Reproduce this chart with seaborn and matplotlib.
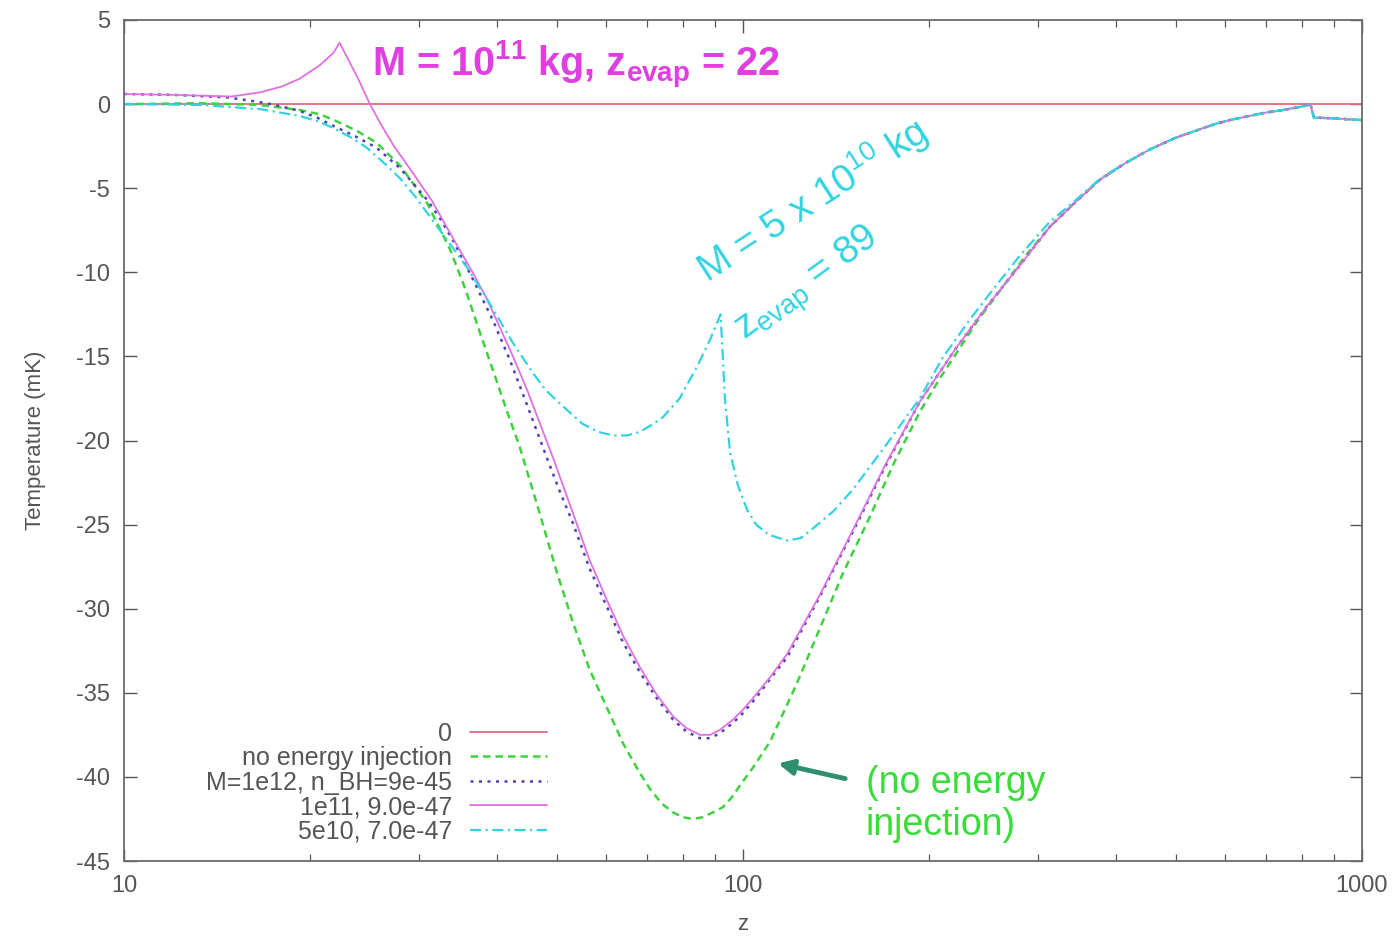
import matplotlib
matplotlib.use("Agg")
import matplotlib.pyplot as plt
import seaborn as sns
from matplotlib.ticker import FixedLocator, FixedFormatter, NullFormatter

# ---- data: redshift z and 21cm brightness temperature (mK) ----
z_zero = [10, 1000]
t_zero = [0.0, 0.0]

z_noinj = [10, 13.3, 16.6, 19.2, 20.7, 22.0, 23.8, 25.6, 28.0, 30.9, 33.6, 35.6,
           37.6, 39.6, 41.6, 43.6, 47.0, 50.0, 53.1, 56.5, 60.3, 64.0, 68.2, 71.0,
           74.0, 77.0, 80.0, 83.0, 86.0, 89.5, 92.8, 96.0, 98.9, 104.0, 110.6, 122.0,
           133.0, 145.0, 160.0, 175.0, 193.0, 208.0, 224.0, 240.0, 260.0, 285.0,
           313.0, 345.0, 377.0, 415.0, 454.0, 500.0, 547.0, 583.0, 620.0, 659.0,
           700.0, 746.0, 790.0, 826.0, 836.0, 900.0, 1000.0]
t_noinj = [0.0, 0.05, -0.05, -0.35, -0.6, -1.0, -1.6, -2.3, -3.7, -5.9, -8.6, -11.0,
           -13.6, -16.0, -18.3, -20.4, -24.4, -27.8, -30.8, -33.6, -35.9, -38.0, -39.8, -40.8,
           -41.6, -42.1, -42.4, -42.5, -42.4, -42.1, -41.8, -41.2, -40.5, -39.4, -37.9, -34.5,
           -31.2, -27.9, -24.6, -21.4, -18.3, -16.3, -14.5, -12.8, -11.1, -9.1,
           -7.3, -5.8, -4.5, -3.5, -2.7, -2.0, -1.5, -1.15, -0.9, -0.7,
           -0.5, -0.35, -0.18, -0.03, -0.8, -0.85, -0.95]

z_m12 = [10, 12.0, 14.7, 16.0, 17.0, 18.0, 19.2, 20.5, 21.8, 23.6, 25.6, 27.9,
         29.3, 30.9, 32.4, 34.0, 36.6, 39.5, 42.0, 44.8, 47.5, 50.3, 53.1, 56.5,
         60.3, 64.0, 68.2, 72.5, 77.1, 81.0, 85.2, 88.5, 91.8, 96.3, 100.0, 105.0,
         111.0, 117.8, 133.0, 150.6, 170.0, 193.0, 220.0, 248.0, 280.0, 313.0,
         345.0, 377.0, 415.0, 454.0, 500.0, 547.0, 583.0, 620.0, 659.0, 700.0,
         746.0, 790.0, 826.0, 836.0, 900.0, 1000.0]
t_m12 = [0.6, 0.55, 0.4, 0.2, 0.05, -0.15, -0.4, -0.8, -1.3, -1.9, -2.6, -3.8,
         -4.7, -5.7, -6.8, -8.1, -10.4, -12.9, -15.2, -17.9, -20.4, -22.8, -24.9, -27.6,
         -29.9, -32.0, -33.8, -35.3, -36.6, -37.3, -37.7, -37.7, -37.4, -36.8, -36.2, -35.3,
         -34.1, -32.9, -29.3, -25.4, -21.5, -17.7, -14.6, -12.0, -9.6, -7.3,
         -5.8, -4.5, -3.5, -2.7, -2.0, -1.5, -1.15, -0.9, -0.7, -0.5,
         -0.35, -0.18, -0.03, -0.8, -0.85, -0.95]

z_m11 = [10, 12.0, 14.9, 16.6, 18.0, 19.2, 20.7, 21.8, 22.3, 23.9, 25.0, 26.1,
         27.3, 29.3, 31.5, 33.2, 34.9, 36.7, 38.6, 40.5, 42.5, 44.8, 47.0, 49.3,
         53.1, 56.5, 60.3, 64.0, 68.2, 72.5, 77.1, 81.0, 85.2, 88.5, 91.8, 96.3,
         100.0, 105.0, 111.0, 117.8, 133.0, 150.6, 170.0, 193.0, 220.0, 248.0,
         280.0, 313.0, 345.0, 377.0, 415.0, 454.0, 500.0, 547.0, 583.0, 620.0,
         659.0, 700.0, 746.0, 790.0, 826.0, 836.0, 900.0, 1000.0]
t_m11 = [0.6, 0.55, 0.45, 0.7, 1.05, 1.5, 2.3, 3.05, 3.65, 1.5, -0.05, -1.3,
         -2.5, -4.1, -5.8, -7.3, -8.7, -10.1, -11.6, -13.3, -15.0, -17.0, -19.0, -21.0,
         -24.3, -27.1, -29.5, -31.6, -33.5, -35.1, -36.4, -37.1, -37.5, -37.5, -37.2, -36.6,
         -36.0, -35.1, -34.0, -32.7, -29.2, -25.3, -21.4, -17.7, -14.6, -12.0,
         -9.6, -7.3, -5.8, -4.5, -3.5, -2.7, -2.0, -1.5, -1.15, -0.9,
         -0.7, -0.5, -0.35, -0.18, -0.03, -0.8, -0.85, -0.95]

z_m5e10 = [10, 13.3, 16.6, 19.2, 20.7, 22.0, 23.3, 24.7, 26.3, 27.9, 29.7, 31.5,
           33.6, 35.8, 38.6, 42.5, 45.8, 48.0, 50.6, 55.0, 58.5, 61.7, 65.0, 68.0,
           71.0, 74.3, 79.0, 84.3, 88.5, 92.0, 93.5, 95.3, 98.0, 101.5, 105.0, 110.0,
           117.8, 124.0, 130.0, 140.0, 150.6, 170.0, 193.0, 210.0, 232.6, 255.0,
           280.2, 313.0, 345.0, 377.0, 415.0, 454.0, 500.0, 547.0, 583.0, 620.0,
           659.0, 700.0, 746.0, 790.0, 826.0, 836.0, 900.0, 1000.0]
t_m5e10 = [0.0, -0.05, -0.3, -0.7, -1.05, -1.5, -2.0, -2.6, -3.5, -4.4, -5.6, -6.9,
           -8.3, -9.7, -11.6, -14.2, -16.0, -17.0, -17.8, -19.0, -19.5, -19.7, -19.7, -19.5,
           -19.1, -18.6, -17.5, -15.6, -14.0, -12.5, -17.5, -20.7, -22.6, -24.1, -25.0, -25.6,
           -25.95, -25.8, -25.2, -24.2, -22.9, -20.3, -17.5, -15.1, -12.8, -10.9,
           -9.0, -7.0, -5.7, -4.45, -3.5, -2.7, -2.0, -1.5, -1.15, -0.9,
           -0.7, -0.5, -0.35, -0.18, -0.03, -0.8, -0.85, -0.95]

labels = ["0", "no energy injection", "M=1e12, n_BH=9e-45",
          "1e11, 9.0e-47", "5e10, 7.0e-47"]

x_major = [10, 100, 1000]
x_major_labels = ["10", "100", "1000"]
x_minor = [20, 30, 40, 50, 60, 70, 80, 90, 200, 300, 400, 500, 600, 700, 800, 900]
y_ticks = list(range(-45, 10, 5))

# ---- style ----
sns.set_style("ticks")
plt.rcParams["font.family"] = ["Liberation Sans", "DejaVu Sans"]
plt.rcParams["axes.unicode_minus"] = False
plt.rcParams["mathtext.fontset"] = "custom"
plt.rcParams["mathtext.rm"] = "Liberation Sans"
plt.rcParams["mathtext.it"] = "Liberation Sans:italic"
plt.rcParams["mathtext.bf"] = "Liberation Sans:bold"

c_zero = "#e06a80"
c_noinj = "#3fd23f"
c_m12 = "#4a44b8"
c_m11 = "#e070e0"
c_m5 = "#30d4e0"

fig = plt.figure(figsize=(14, 9.38), dpi=100)
ax = fig.add_axes([124 / 1400, 77 / 938, 1238 / 1400, 841 / 938])

sns.lineplot(x=z_zero, y=t_zero, ax=ax, color=c_zero, lw=1.3, label=labels[0],
             errorbar=None)
sns.lineplot(x=z_noinj, y=t_noinj, ax=ax, color=c_noinj, lw=1.8,
             linestyle=(0, (3, 2)), label=labels[1], errorbar=None)
sns.lineplot(x=z_m12, y=t_m12, ax=ax, color=c_m12, lw=1.8,
             linestyle=(0, (1.2, 2.2)), label=labels[2], errorbar=None)
sns.lineplot(x=z_m11, y=t_m11, ax=ax, color=c_m11, lw=1.3, label=labels[3],
             errorbar=None)
sns.lineplot(x=z_m5e10, y=t_m5e10, ax=ax, color=c_m5, lw=1.6,
             linestyle=(0, (5, 2, 1, 2)), label=labels[4], errorbar=None)

ax.set_xscale("log")
ax.set_xlim(10, 1000)
ax.set_ylim(-45, 5)
ax.xaxis.set_major_locator(FixedLocator(x_major))
ax.xaxis.set_major_formatter(FixedFormatter(x_major_labels))
ax.xaxis.set_minor_locator(FixedLocator(x_minor))
ax.xaxis.set_minor_formatter(NullFormatter())
ax.yaxis.set_major_locator(FixedLocator(y_ticks))
ax.set_yticklabels([str(v) for v in y_ticks])

ax.tick_params(which="both", direction="in", top=True, right=True,
               colors="#555555", labelcolor="#555555")
ax.tick_params(which="major", length=9, width=1.0, labelsize=17, pad=10)
ax.tick_params(which="minor", length=5, width=0.9)
for s in ax.spines.values():
    s.set_color("#6a6a6a")
    s.set_linewidth(1.3)

ax.set_xlabel("z", fontsize=16, color="#555555", labelpad=12)
ax.set_ylabel("Temperature (mK)", fontsize=16, color="#555555", labelpad=22)

# ---- annotations ----
ax.text(25.2, 2.3, r"M = 10$^{\mathbf{11}}$ kg, z$_{\mathbf{evap}}$ = 22",
        color="#e03ee0", fontsize=28.5, fontweight="bold", ha="left", va="center")
ax.text(129, -5.7, r"M = 5 x 10$^{10}$ kg", color=c_m5, fontsize=28,
        rotation=33, rotation_mode="anchor", ha="center", va="center")
ax.text(127.4, -10.75, r"z$_{\mathrm{evap}}$ = 89", color=c_m5, fontsize=28,
        rotation=36, rotation_mode="anchor", ha="center", va="center")
ax.text(158, -41.6, "(no energy\ninjection)", color="#38dd38", fontsize=27,
        ha="left", va="center", linespacing=1.2)
ax.annotate("", xy=(113.9, -39.2), xytext=(146.2, -40.1),
            arrowprops=dict(arrowstyle="-|>", color="#2e8f6c", lw=3.5,
                            mutation_scale=22, shrinkA=0, shrinkB=0))

leg = ax.legend(loc="lower right", bbox_to_anchor=(0.356, 0.0), frameon=False,
                markerfirst=False, fontsize=18, labelspacing=0.02,
                handlelength=3.1, handletextpad=0.7, borderaxespad=0.3)
for t in leg.get_texts():
    t.set_color("#555555")

fig.savefig("out.png", dpi=100)
